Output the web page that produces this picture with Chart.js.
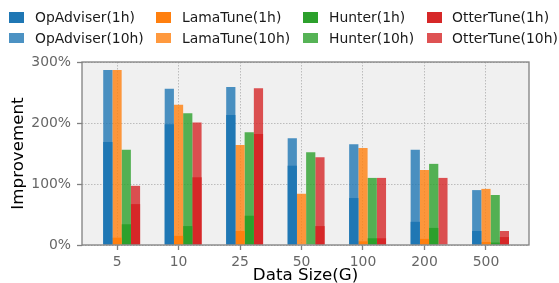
<!DOCTYPE html>
<html><head><meta charset="utf-8">
<script src="https://cdn.jsdelivr.net/npm/chart.js@4.4.1/dist/chart.umd.min.js"></script>
<style>
html,body{margin:0;padding:0;background:#fff;}
#wrap{position:relative;width:559px;height:283px;overflow:hidden;}
canvas{position:absolute;left:0;top:0;}
.lg{position:absolute;font-family:'DejaVu Sans';font-size:13.9px;color:#1a1a1a;white-space:nowrap;line-height:14px;}
.sw{position:absolute;width:15px;height:10.5px;}
</style></head>
<body><div id="wrap"><canvas id="c" width="559" height="283"></canvas><div id="legend"></div></div>
<script>
const categories = ['5', '10', '25', '50', '100', '200', '500'];
const tools = ['OpAdviser', 'LamaTune', 'Hunter', 'OtterTune'];
const opadviser1h  = [169, 198, 213, 130, 77, 38, 23];
const opadviser10h = [287, 256, 259, 175, 165, 156, 90];
const lamatune1h   = [12, 15, 23, 0, 6, 10, 5];
const lamatune10h  = [287, 230, 164, 84, 159, 123, 92];
const hunter1h     = [34, 31, 48, 0, 11, 28, 4];
const hunter10h    = [156, 216, 185, 152, 110, 133, 82];
const ottertune1h  = [67, 111, 182, 31, 11, 0, 13];
const ottertune10h = [97, 201, 257, 144, 110, 110, 23];
const yTicks = [0, 100, 200, 300];

const colors1h = ['#1f77b4', '#ff7f0e', '#2ca02c', '#d62728'];
const colors10h = ['rgba(31,119,180,0.8)', 'rgba(255,127,14,0.8)', 'rgba(44,160,44,0.8)', 'rgba(214,39,40,0.8)'];

const data1h = [opadviser1h, lamatune1h, hunter1h, ottertune1h];
const data10h = [opadviser10h, lamatune10h, hunter10h, ottertune10h];
const toPts = arr => arr.map((v, i) => ({x: i, y: v}));
const padPts = categories.map((c, i) => ({x: i, y: null}));

// one slot per tool (stack = tool); 1h drawn over 10h in the same slot.
// an empty leading slot puts the LamaTune slot on the tick, as in the reference.
const datasets = [];
datasets.push({label: '_pad', data: padPts, stack: '_pad', order: 0, backgroundColor: 'rgba(0,0,0,0)'});
tools.forEach((t, k) => {
  datasets.push({label: t + '(1h)', data: toPts(data1h[k]), backgroundColor: colors1h[k], stack: t, order: 1 + 2 * k});
  datasets.push({label: t + '(10h)', data: toPts(data10h[k]), backgroundColor: colors10h[k], stack: t, order: 2 + 2 * k});
});

const FONT = 'DejaVu Sans';
const tickColor = '#666666';

const frame = {
  id: 'frame',
  beforeDraw(chart) {
    const {ctx, chartArea: a} = chart;
    ctx.save();
    ctx.fillStyle = '#f0f0f0';
    ctx.fillRect(a.left, a.top, a.right - a.left, a.bottom - a.top);
    ctx.restore();
  },
  afterDatasetsDraw(chart) {
    const {ctx, chartArea: a} = chart;
    ctx.save();
    ctx.strokeStyle = '#808080';
    ctx.lineWidth = 1.3;
    ctx.strokeRect(a.left, a.top, a.right - a.left, a.bottom - a.top);
    ctx.restore();
  }
};

new Chart(document.getElementById('c'), {
  type: 'bar',
  data: {datasets},
  plugins: [frame],
  options: {
    responsive: false,
    animation: false,
    layout: {padding: {top: 62, right: 30, left: 0, bottom: 0}},
    plugins: {legend: {display: false}, tooltip: {enabled: false}},
    datasets: {bar: {barPercentage: 1, categoryPercentage: 0.75, borderWidth: 0}},
    scales: {
      x: {
        type: 'linear', min: -0.57, max: 6.7, offset: false, stacked: true,
        afterBuildTicks: s => { s.ticks = categories.map((c, i) => ({value: i})); },
        afterFit: s => { s.height = 38; },
        ticks: {callback: v => categories[v], color: tickColor, font: {family: FONT, size: 13.9}, padding: 4, autoSkip: false, maxRotation: 0},
        grid: {offset: false, color: '#bcbcbc', lineWidth: 1, tickLength: 5, tickColor: '#808080', tickWidth: 1.3, tickBorderDash: []},
        border: {display: false, dash: [1.5, 1.5]},
        title: {display: true, text: 'Data Size(G)', color: '#000', font: {family: FONT, size: 16.7, lineHeight: 1}, padding: {top: 0, bottom: -1}}
      },
      y: {
        min: 0, max: 300, stacked: false,
        afterBuildTicks: s => { s.ticks = yTicks.map(v => ({value: v})); },
        afterFit: s => { s.width = 82; },
        ticks: {callback: v => v + '%', color: tickColor, font: {family: FONT, size: 13.9}, padding: 6},
        grid: {color: '#bcbcbc', lineWidth: 1, tickLength: 5, tickColor: '#808080', tickWidth: 1.3, tickBorderDash: []},
        border: {display: false, dash: [1.5, 1.5]},
        title: {display: true, text: 'Improvement', color: '#000', font: {family: FONT, size: 16.7, lineHeight: 1}, padding: {top: 10.6, bottom: 0}}
      }
    }
  }
});

// HTML legend: 4 columns, row 1 = 1h, row 2 = 10h
const legend = document.getElementById('legend');
const swX = [9, 156, 303, 427];
const txX = [35, 182, 329, 452];
const rowSwTop = [12.3, 32.5];
const rowTxTop = [10.3, 31.3];
[[colors1h, '(1h)'], [colors10h, '(10h)']].forEach(([cols, suf], r) => {
  tools.forEach((t, k) => {
    const sw = document.createElement('div');
    sw.className = 'sw';
    sw.style.left = swX[k] + 'px';
    sw.style.top = rowSwTop[r] + 'px';
    sw.style.background = cols[k];
    legend.appendChild(sw);
    const tx = document.createElement('div');
    tx.className = 'lg';
    tx.style.left = txX[k] + 'px';
    tx.style.top = rowTxTop[r] + 'px';
    tx.textContent = t + suf;
    legend.appendChild(tx);
  });
});
</script>
</body></html>
